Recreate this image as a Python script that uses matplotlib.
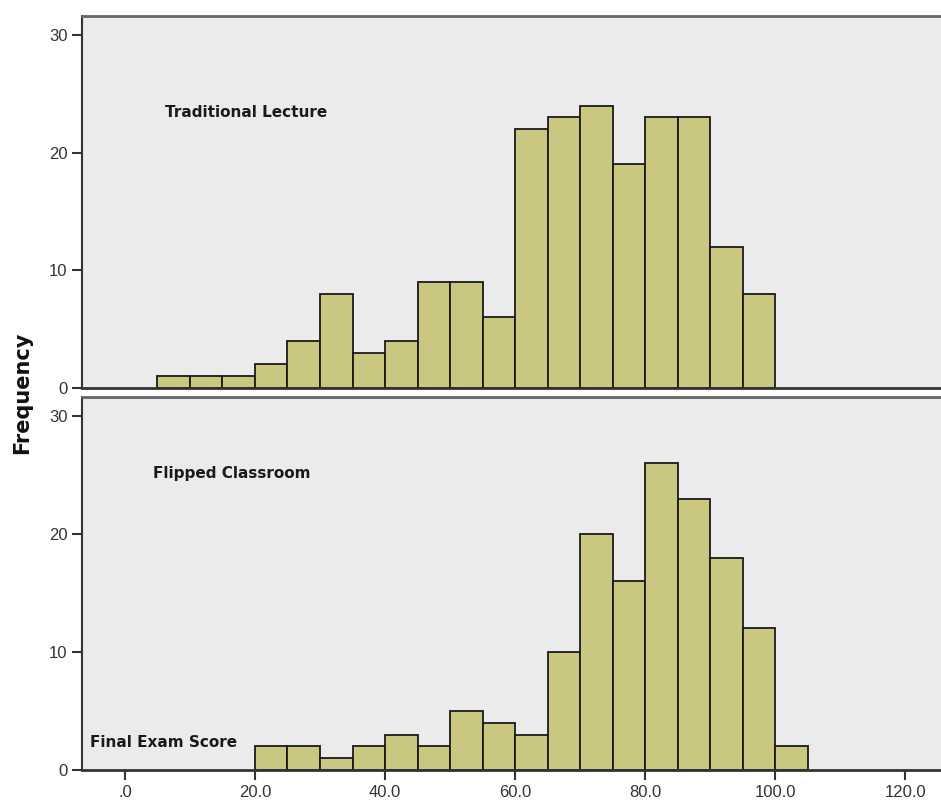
import numpy as np
import matplotlib.pyplot as plt

plt.rcParams['font.family'] = ['Liberation Sans', 'DejaVu Sans']

# Histogrammdaten (Klassenbreite 5)
bin_width = 5
trad_start = 5
trad_counts = [1, 1, 1, 2, 4, 8, 3, 4, 9, 9, 6, 22, 23, 24, 19, 23, 23, 12, 8]
flip_start = 20
flip_counts = [2, 2, 1, 2, 3, 2, 5, 4, 3, 10, 20, 16, 26, 23, 18, 12, 2]

x_ticks = [0, 20, 40, 60, 80, 100, 120]
x_tick_labels = [".0", "20.0", "40.0", "60.0", "80.0", "100.0", "120.0"]
y_ticks = [0, 10, 20, 30]

bar_color = "#c9c780"
bg_color = "#ebebeb"
label_font = ["DejaVu Sans"]

fig = plt.figure(figsize=(9.41, 8.02), dpi=100)
ax1 = fig.add_axes([0.0871, 0.5162, 0.913, 0.4638])
ax2 = fig.add_axes([0.0871, 0.0399, 0.913, 0.4651])


def draw(ax, start, counts, label, label_xy):
    edges = start + bin_width * np.arange(len(counts))
    ax.bar(edges, counts, width=bin_width, align="edge", color=bar_color,
           edgecolor="#1a1a1a", linewidth=1.3, zorder=2)
    ax.set_facecolor(bg_color)
    ax.set_xlim(-6.6, 125.5)
    ax.set_ylim(0, 31.6)
    ax.set_yticks(y_ticks)
    ax.tick_params(axis="y", direction="out", length=7, width=1.5,
                   labelsize=12, labelcolor="#333333", colors="#333333")
    ax.spines["right"].set_visible(False)
    ax.spines["top"].set_color("#666666")
    ax.spines["top"].set_linewidth(2)
    ax.spines["left"].set_color("#333333")
    ax.spines["left"].set_linewidth(1.5)
    ax.spines["bottom"].set_color("#333333")
    ax.spines["bottom"].set_linewidth(2)
    ax.text(label_xy[0], label_xy[1], label, fontsize=11, fontweight="bold",
            family=label_font, color="#1a1a1a", ha="left", va="center")


draw(ax1, trad_start, trad_counts, "Traditional Lecture", (6.2, 23.4))
draw(ax2, flip_start, flip_counts, "Flipped Classroom", (4.3, 25.1))
ax2.text(-5.4, 2.3, "Final Exam Score", fontsize=11, fontweight="bold",
         family=label_font, color="#1a1a1a", ha="left", va="center")

ax1.set_xticks([])
ax2.set_xticks(x_ticks)
ax2.set_xticklabels(x_tick_labels)
ax2.tick_params(axis="x", direction="out", length=7, width=1.5,
                labelsize=12, labelcolor="#333333", colors="#333333")

fig.text(0.024, 0.51, "Frequency", rotation=90, fontsize=15,
         fontweight="bold", family=label_font, ha="center", va="center",
         color="#111111")

fig.savefig("out.png", dpi=100)
